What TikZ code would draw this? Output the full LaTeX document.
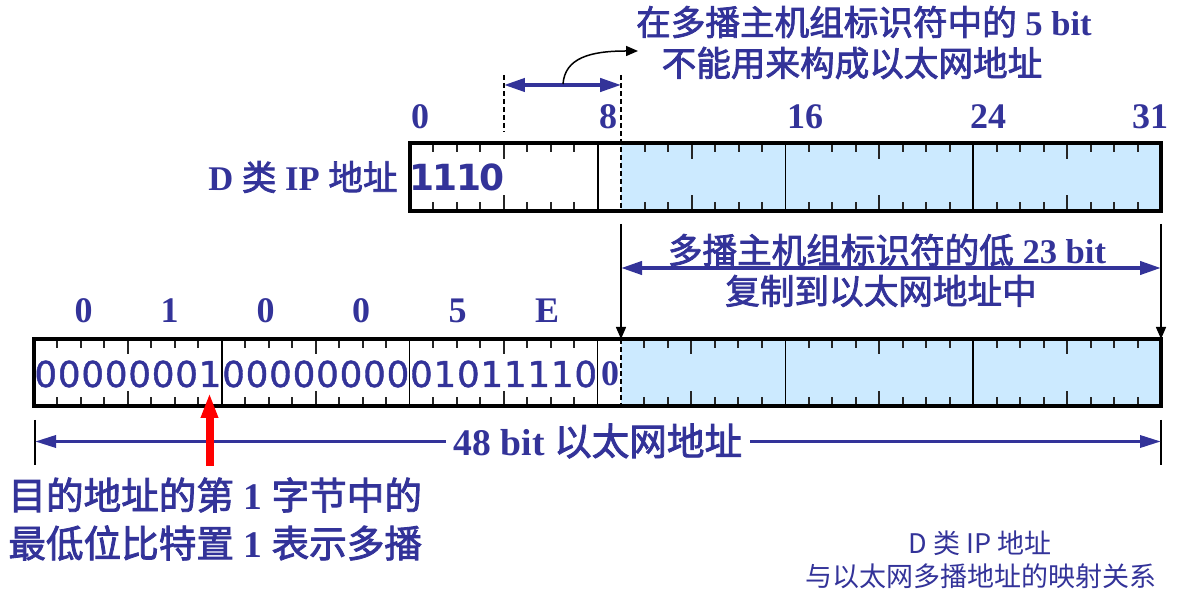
\documentclass[tikz,border=0pt]{standalone}
\usepackage{fontspec}
\setmainfont{Liberation Serif}
\newfontfamily\cjk{Noto Sans CJK SC}
\newfontfamily\cjkm[FakeBold=2.2]{Noto Sans CJK SC}
\newfontfamily\digf{DejaVu Sans}
\newfontfamily\digm[FakeBold=1.2]{DejaVu Sans}
\usetikzlibrary{arrows.meta}
\definecolor{tblue}{RGB}{51,51,153}
\definecolor{fillblue}{RGB}{204,234,255}
\definecolor{redarrow}{RGB}{255,0,0}
\newcommand\zh[1]{{\cjkm\mdseries #1}}
\begin{document}
\begin{tikzpicture}[x=0.5pt,y=-0.5pt,
  lab/.style={text=tblue,font=\bfseries\fontsize{18}{20}\selectfont,inner sep=0pt},
  big/.style={text=tblue,font=\bfseries\fontsize{17.3}{20}\selectfont,inner sep=0pt},
  hugetxt/.style={text=tblue,font=\bfseries\fontsize{18.8}{22}\selectfont,inner sep=0pt},
  captxt/.style={text=tblue,font=\cjk\fontsize{13.5}{16}\selectfont,inner sep=0pt},
  topbits/.style={text=tblue,font=\digf\bfseries\fontsize{18}{20}\selectfont,inner sep=0pt},
  botbits/.style={text=tblue,font=\digm\mdseries\fontsize{17.8}{20}\selectfont,inner sep=0pt},
  tickline/.style={line width=1pt,black!85},
  fullline/.style={line width=0.8pt,black},
  dsh/.style={line width=0.8pt,black,dash pattern=on 2.5pt off 1.5pt},
  frameline/.style={line width=2pt,black},
  barrow/.style={line width=2pt,tblue,{Triangle[length=10.5pt,width=6.5pt]}-{Triangle[length=10.5pt,width=6.5pt]}},
  karrow/.style={line width=0.75pt,black,-{Triangle[length=6pt,width=5pt]}},
  vline/.style={line width=0.7pt,black},
]
\useasboundingbox (0,0) rectangle (1182,597);

% ---------- top box (32 bits) ----------
\def\tl{410}\def\tw{23.47}
\coordinate (TL) at (410,143);
\coordinate (TR) at (1161,211);
\coordinate (T9top) at (621.2,143);
\coordinate (T9bot) at (621.2,211);
\fill[fillblue] (T9top) rectangle (TR);
\foreach \i in {1,2,3,5,6,7,10,11,13,14,15,17,18,19,21,22,23,25,26,27,29,30,31}{
  \draw[tickline] (\tl+\i*\tw,143) -- ++(0,9);
  \draw[tickline] (\tl+\i*\tw,211) -- ++(0,-9);
}
\foreach \i in {4,12,20,28}{
  \draw[tickline] (\tl+\i*\tw,143) -- ++(0,16);
  \draw[tickline] (\tl+\i*\tw,211) -- ++(0,-16);
}
\foreach \i in {8,16,24}{
  \draw[fullline] (\tl+\i*\tw,143) -- (\tl+\i*\tw,211);
}
\coordinate (D9a) at (621.2,75);
\coordinate (D4a) at (503.9,75);
\coordinate (D4b) at (503.9,132);
\draw[dsh] (D9a) -- (T9bot);
\draw[dsh] (D4a) -- (D4b);
\draw[frameline] (TL) rectangle (TR);

\foreach \d [count=\i from 0] in {1,1,1,0}{
  \node[topbits] (tb\i) at (\tl+\i*\tw+0.5*\tw,177) {\d};
}

% bit numbers
\node[lab] (n0) at (420,116.5) {0};
\node[lab] (n8) at (608,116.5) {8};
\node[lab] (n16) at (805,116.5) {16};
\node[lab] (n24) at (988,116.5) {24};
\node[lab] (n31) at (1150,116.5) {31};

\node[big,anchor=east] (dlabel) at (398,177) {D \zh{类} IP \zh{地址}};

% 5 bit arrow and note
\coordinate (A5l) at (503.9,85);
\coordinate (A5r) at (621.2,85);
\draw[barrow] (A5l) -- (A5r);
\node[big] (topA) at (864,22) {\zh{在多播主机组标识符中的} 5 bit};
\node[big] (topB) at (852,63) {\zh{不能用来构成以太网地址}};
\coordinate (cA) at (563,84);
\coordinate (cB) at (638,51);
\draw[karrow] (cA) .. controls (565,58) and (590,51) .. (cB);

% ---------- bottom box (48 bits) ----------
\def\bl{34}\def\bw{23.48}
\coordinate (BL) at (34,339.5);
\coordinate (BR) at (1161,406);
\coordinate (B25top) at (621,339.5);
\coordinate (B25bot) at (621,406);
\fill[fillblue] (B25top) rectangle (BR);
\foreach \i in {1,2,3,5,6,7,9,10,11,13,14,15,17,18,19,21,22,23,26,27,29,30,31,33,34,35,37,38,39,41,42,43,45,46,47}{
  \draw[tickline] (\bl+\i*\bw,339.5) -- ++(0,9);
  \draw[tickline] (\bl+\i*\bw,406) -- ++(0,-9);
}
\foreach \i in {4,12,20,28,36,44}{
  \draw[tickline] (\bl+\i*\bw,339.5) -- ++(0,15);
  \draw[tickline] (\bl+\i*\bw,406) -- ++(0,-15);
}
\foreach \i in {8,16,24,32,40}{
  \draw[fullline] (\bl+\i*\bw,339.5) -- (\bl+\i*\bw,406);
}
\draw[dsh] (B25top) -- (B25bot);
\draw[frameline] (BL) rectangle (BR);

\foreach \d [count=\i from 0] in {0,0,0,0,0,0,0,1,0,0,0,0,0,0,0,0,0,1,0,1,1,1,1,0}{
  \node[botbits] (bb\i) at (\bl+\i*\bw+0.5*\bw,374) {\d};
}
\node[lab] (bb24) at (610,374) {0};

% hex labels
\node[lab] (h1) at (83.5,311) {0};
\node[lab] (h2) at (169.5,311) {1};
\node[lab] (h3) at (265.5,311) {0};
\node[lab] (h4) at (361,311) {0};
\node[lab] (h5) at (457.5,311) {5};
\node[lab] (h6) at (547,311) {E};

% ---------- middle: 23 bit copy ----------
\coordinate (V1a) at (621,224);
\coordinate (V1b) at (621,339);
\coordinate (V2a) at (1161,224);
\coordinate (V2b) at (1161,339);
\draw[karrow] (V1a) -- (V1b);
\draw[karrow] (V2a) -- (V2b);
\coordinate (M1) at (621,268);
\coordinate (M2) at (1161,268);
\draw[barrow] (M1) -- (M2);
\node[big] (midA) at (887,250) {\zh{多播主机组标识符的低} 23 bit};
\node[big] (midB) at (881,291) {\zh{复制到以太网地址中}};

% ---------- 48 bit arrow ----------
\coordinate (L48a) at (35,420);
\coordinate (L48b) at (35,465);
\coordinate (R48a) at (1161,420);
\coordinate (R48b) at (1161,465);
\draw[vline] (L48a) -- (L48b);
\draw[vline] (R48a) -- (R48b);
\coordinate (L48) at (35,441.5);
\coordinate (R48) at (1161,441.5);
\draw[line width=1.7pt,tblue,{Triangle[length=10.5pt,width=6pt]}-{Triangle[length=10.5pt,width=6pt]}] (L48) -- (R48);
\node[hugetxt,fill=white,inner xsep=4pt,inner ysep=2pt] (b48) at (598,441) {48 bit \zh{以太网地址}};

% ---------- red arrow and note ----------
\coordinate (Ra) at (209.5,466);
\coordinate (Rb) at (209.5,393);
\draw[line width=4pt,redarrow,-{Triangle[length=12.5pt,width=8pt]}] (Ra) -- (Rb);
\node[hugetxt,anchor=west] (noteA) at (8,495) {\zh{目的地址的第} 1 \zh{字节中的}};
\node[hugetxt,anchor=west] (noteB) at (8,543) {\zh{最低位比特置} 1 \zh{表示多播}};

% ---------- caption ----------
\node[captxt] (cap1) at (980,543) {D 类 IP 地址};
\node[captxt] (cap2) at (981,576) {与以太网多播地址的映射关系};
\end{tikzpicture}
\end{document}
